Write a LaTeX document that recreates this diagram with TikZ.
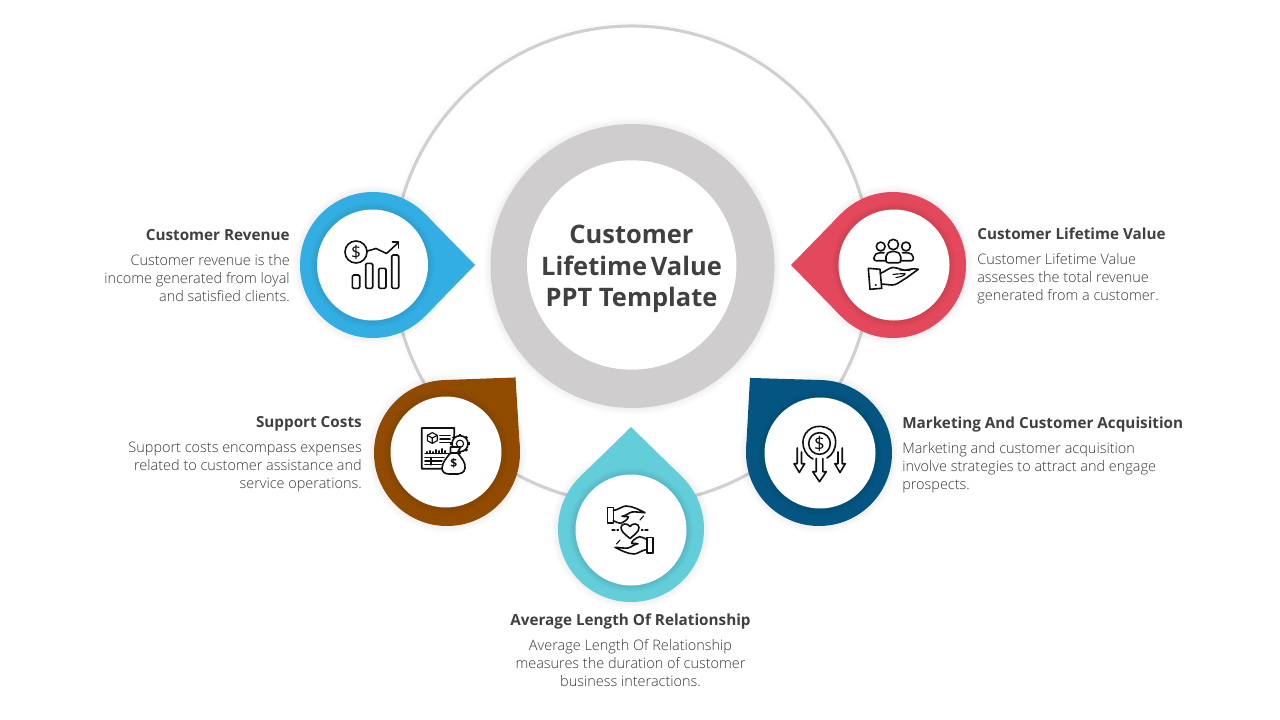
\documentclass[tikz,border=0pt]{standalone}
\usepackage{fontspec}
\setmainfont{Open Sans}
\newfontfamily\lightf{Open Sans Light}
\definecolor{ringgray}{HTML}{CFCDCE}
\definecolor{thingray}{HTML}{D0D0D0}
\definecolor{titlegray}{HTML}{404040}
\definecolor{bodygray}{HTML}{383838}
\definecolor{cblue}{HTML}{33AEE2}
\definecolor{cred}{HTML}{E4485C}
\definecolor{cbrown}{HTML}{914B00}
\definecolor{cnavy}{HTML}{055582}
\definecolor{cteal}{HTML}{63CDD9}
\definecolor{iconink}{HTML}{101010}
\tikzset{
  head/.style={font=\fontsize{11.45}{14}\selectfont\bfseries,text=titlegray,inner sep=0pt},
  bodytext/.style={font=\lightf\fontsize{10.85}{13.5}\selectfont,text=bodygray,inner sep=0pt},
  bigtitle/.style={font=\fontsize{19.1}{23.7}\selectfont\bfseries,text=titlegray,inner sep=0pt,align=center},
  ink/.style={draw=iconink,line width=1.2pt,line join=round,line cap=round},
  thinink/.style={draw=iconink,line width=.85pt,line join=round,line cap=round},
  dollar/.style={font=\fontsize{#1}{#1}\selectfont,text=iconink,inner sep=0pt}
}
\newcommand{\softdisc}[5]{% cx cy radius steps opacity
  \foreach \i in {1,...,#4}{\fill[black,opacity=#5] (#1,#2) circle[radius={#3+\i}];}}
\newcommand{\dropshape}[4]{% cx cy tipangle colour
  \softdisc{#1}{#2}{73}{7}{.008}
  \begin{scope}[shift={(#1,#2)}]
    \fill[#4] ({#3}:102) -- ({#3+44.3}:73) -- ({#3-44.3}:73) -- cycle;
    \fill[#4] (0,0) circle[radius=73];
  \end{scope}}
\newcommand{\hole}[2]{% cx cy
  \softdisc{#1}{#2}{55}{7}{.011}
  \fill[white] (#1,#2) circle[radius=55.5];}
\begin{document}
\begin{tikzpicture}[x=0.75pt,y=-0.75pt]
\useasboundingbox (0,0) rectangle (1280,720);
\fill[white] (0,0) rectangle (1280,720);

% large thin circle
\softdisc{632}{265}{239}{6}{.005}
\fill[white] (632,265) circle[radius=239];
\draw[thingray,line width=2.3pt] (632,265) circle[radius=239];

% central ring
\softdisc{632.5}{266}{142}{7}{.008}
\fill[ringgray] (632.5,266) circle[radius=142];
\fill[white] (631.7,265) circle[radius=104.7];
\node[bigtitle] (maintitle) at (631.5,269.2) {Customer\\Lifetime\hspace{-2.2pt} Value\\PPT Template};

% drops
\dropshape{373}{265}{0}{cblue}
\dropshape{893}{265}{180}{cred}
\dropshape{447}{453}{-47.8}{cbrown}
\dropshape{819}{453}{-132.6}{cnavy}
\dropshape{631}{529}{-90}{cteal}
\hole{372.5}{265}
\hole{894}{265}
\hole{446}{452}
\hole{820}{453}
\hole{631}{530}

% --- icon: revenue
\draw[ink] (356,252) circle[radius=11];
\node[dollar=13] (usdA) at (356,252) {\$};
\draw[ink] (367.5,251) -- (376,248.5) -- (386.5,253.5) -- (398.5,242.5);
\draw[ink] (392.5,242) -- (398.5,242) -- (398.5,248);
\draw[ink,rounded corners=1pt] (352.3,275) rectangle (359.7,288.3);
\draw[ink,rounded corners=1pt] (365.7,263.3) rectangle (372.7,288.3);
\draw[ink,rounded corners=1pt] (378.7,268.3) rectangle (386,288.3);
\draw[ink,rounded corners=1pt] (391.7,255) rectangle (398.7,288.3);

% --- icon: lifetime value
\draw[ink] (893.3,244.5) circle[radius=5.2];
\draw[ink] (880.7,246.5) circle[radius=4.4];
\draw[ink] (906,246.5) circle[radius=4.4];
\draw[ink,rounded corners=1.5pt] (886,262.7) -- (886,254.5) -- (890,251.5) -- (896.5,251.5) -- (900.7,254.5) -- (900.7,262.7) -- cycle;
\draw[ink,rounded corners=1.5pt] (886,260.7) -- (874,260.7) -- (874,255.5) -- (878,252.7) -- (884,252.7);
\draw[ink,rounded corners=1.5pt] (900.7,260.7) -- (913.3,260.7) -- (913.3,255.5) -- (909.5,252.7) -- (902.5,252.7);
\draw[ink] (868.3,268.3) -- (880,269.3) -- (881.7,288.3) -- (870,289.3) -- cycle;
\draw[ink] (880.3,273.3) .. controls (886,271.5) and (889,267.5) .. (893,267.5) .. controls (897,267.5) and (901,269.8) .. (905,270.3) .. controls (909,269.5) and (914,268) .. (918.3,269.3) .. controls (913,273) and (908,277) .. (903,280) .. controls (899,282.5) and (896,285) .. (892,285) .. controls (888,285) and (885,284) .. (881.5,284);
\draw[thinink] (893,274.5) .. controls (898,273.5) and (903,274) .. (905,273.5) .. controls (906,275) and (901,277) .. (896,277.5);
\draw[thinink] (900,270) -- (910,270.5);
\fill[iconink] (875.7,285) circle[radius=1.2];

% --- icon: support costs
\draw[ink] (454,446) -- (454.3,428) -- (421.7,428) -- (421.7,468.7) -- (444,468.7);
\draw[thinink] (432.3,432.6) -- (437.2,435.3) -- (437.2,440.7) -- (432.3,443.4) -- (427.4,440.7) -- (427.4,435.3) -- cycle;
\draw[thinink] (427.4,435.3) -- (432.3,438) -- (437.2,435.3) (432.3,438) -- (432.3,443.4);
\draw[ink] (440,435.3) -- (450,435.3) (440,438.8) -- (450,438.8) (440,442.3) -- (450,442.3);
\draw[thinink] (425,453.7) -- (449,453.7);
\foreach \tx/\th in {427/2,430/3,433/2,436/4,439/3,442/5,445/3}{\draw[thinink] (\tx,453.7) -- (\tx,453.7-\th);}
\draw[ink] (425,457.3) -- (444,457.3) (425,461) -- (442,461) (425,464.6) -- (441,464.6);
\draw[thinink] (431,457.3) -- (431,465);
% gear
\foreach \a in {0,45,...,315}{\draw[line width=2pt,iconink] ([shift={(460,443.7)}]\a:8) -- ([shift={(460,443.7)}]\a:10);}
\draw[ink,fill=white] (460,443.7) circle[radius=8];
\draw[thinink,fill=white] (460,443.7) circle[radius=3.6];
% bag
\draw[ink,fill=white] (450.5,447) -- (460.5,447) -- (457.5,453) .. controls (461,457) and (466,463) .. (465,468) .. controls (464.5,472.5) and (461,474) .. (458,474) -- (449,474) .. controls (445,474) and (442,472) .. (442,468) .. controls (442,463) and (447,457) .. (450.5,453) -- cycle;
\draw[ink] (450.5,453) -- (457.5,453);
\node[dollar=10,font=\fontsize{9}{9}\selectfont\bfseries] (usdB) at (453.8,463.5) {\$};

% --- icon: marketing
\draw[ink] (827,458) .. controls (838,452) and (839.5,432) .. (826,427.5) .. controls (812,422.5) and (800,434) .. (803.5,447) .. controls (805,453) and (809,457) .. (813,459);
\draw[ink] (819.5,443.5) circle[radius=10.8];
\node[dollar=14] (usdC) at (819.5,443.5) {\$};
\draw[ink] (816.2,458.5) -- (816.2,471.7) -- (812.7,471.7) -- (819.5,481.7) -- (826.3,471.7) -- (822.8,471.7) -- (822.8,458.5);
\draw[ink] (797.2,448) -- (797.2,463.7) -- (794,463.7) -- (799.3,472.5) -- (804.7,463.7) -- (801.5,463.7) -- (801.5,452);
\draw[ink] (838,452) -- (838,463.7) -- (834.8,463.7) -- (840,472.5) -- (845.3,463.7) -- (842.2,463.7) -- (842.2,448);

% --- icon: relationship
\foreach \rot in {0,180}{
\begin{scope}[rotate around={\rot:(630,530)}]
  \draw[ink] (607.3,507.3) rectangle (613.3,522.7);
  \draw[ink] (613.3,510.5) .. controls (618,510) and (622,506.2) .. (626,506) .. controls (632,506) and (640,510) .. (645,512.7) .. controls (640,512.5) and (636,511.5) .. (632,512) .. controls (628,513) and (626,516) .. (622,516.3) -- (628.5,516.8) .. controls (628,519.5) and (624,522) .. (620.5,523.3) .. controls (618,523.5) and (616,521.5) .. (613.3,520.7);
  \draw[thinink] (640,520) -- (643.5,516);
\end{scope}}
\draw[ink] (630,538.5) .. controls (626,535) and (621,532) .. (621,527.5) .. controls (621,523.5) and (627.5,522.5) .. (630,526.5) .. controls (632.5,522.5) and (639,523.5) .. (639,527.5) .. controls (639,532) and (634,535) .. (630,538.5) -- cycle;
\draw[thinink] (612,530) -- (615,530) (617,530) -- (618.5,530) (641.5,530) -- (643,530) (645,530) -- (648,530);

% texts
\node[head,anchor=base east] (h1) at (290,240) {Customer Revenue};
\node[bodytext,anchor=east,align=right] (b1) at (290,278) {Customer revenue is the\\income generated from loyal\\and satisfied clients.};
\node[head,anchor=base west] (h2) at (977,239.5) {Customer Lifetime Value};
\node[bodytext,anchor=west,align=left] (b2) at (977,279) {Customer Lifetime Value\\assesses the total revenue\\generated from a customer.};
\node[head,anchor=base east] (h3) at (362,427) {Support Costs};
\node[bodytext,anchor=east,align=right] (b3) at (362,467) {Support costs encompass expenses\\related to customer assistance and\\service operations.};
\node[head,anchor=base west] (h4) at (902,428) {Marketing And Customer Acquisition};
\node[bodytext,anchor=west,align=left] (b4) at (902,468) {Marketing and customer acquisition\\involve strategies to attract and engage\\prospects.};
\node[head,anchor=base] (h5) at (630.5,625) {Average Length Of Relationship};
\node[bodytext,align=center] (b5) at (630.5,663) {Average Length Of Relationship\\measures the duration of customer\\business interactions.};
\end{tikzpicture}
\end{document}
